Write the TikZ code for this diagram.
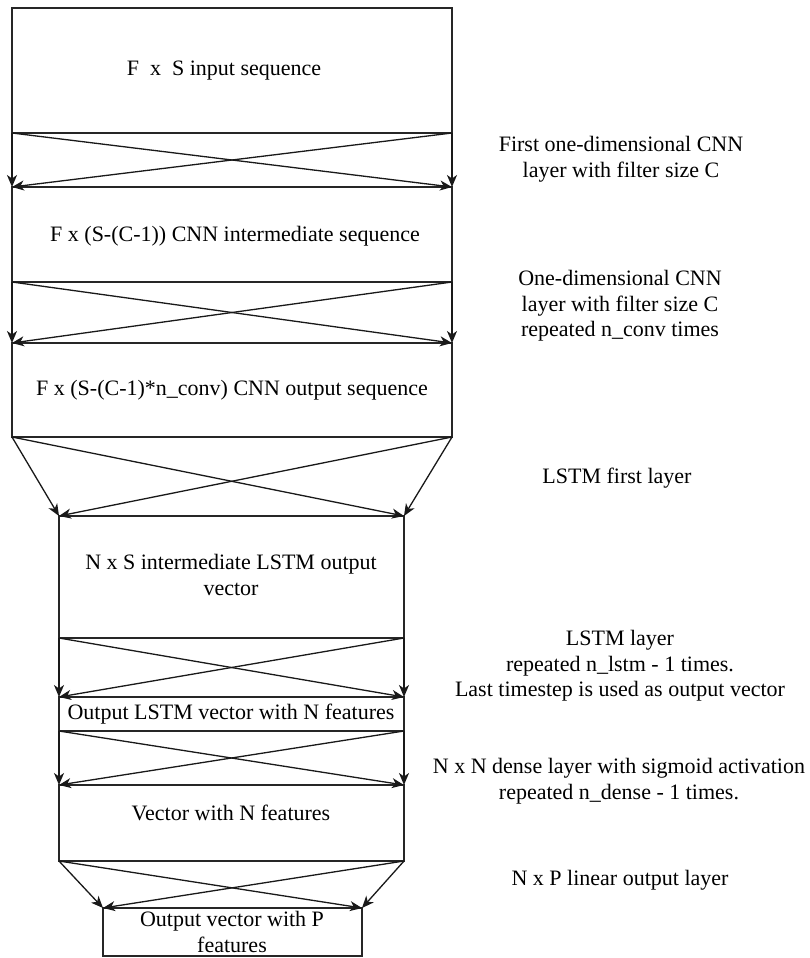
\documentclass[tikz,border=0pt]{standalone}
\usepackage{fontspec}
\setmainfont{Liberation Serif}
\usetikzlibrary{arrows.meta}
\begin{document}
\begin{tikzpicture}[x=1pt,y=-1pt,
  layerbox/.style={draw=black!85, line width=1.4pt},
  flow/.style={draw=black!90, line width=1.3pt, -{Stealth[length=12pt,width=10pt,inset=3.5pt]}},
  txt/.style={font=\fontsize{22}{25.5}\selectfont, align=center, inner sep=0pt},
  note/.style={font=\fontsize{22}{25.5}\selectfont, align=center, inner sep=0pt}]
\useasboundingbox (0,0) rectangle (810,958);
\fill[white] (0,0) rectangle (810,958);

% corners of the layer boxes, used as connector ends
\coordinate (b1tl) at (12,8);   \coordinate (b1tr) at (452,8);
\coordinate (b1bl) at (12,133); \coordinate (b1br) at (452,133);
\coordinate (b2tl) at (12,187); \coordinate (b2tr) at (452,187);
\coordinate (b2bl) at (12,282); \coordinate (b2br) at (452,282);
\coordinate (b3tl) at (12,343); \coordinate (b3tr) at (452,343);
\coordinate (b3bl) at (12,437); \coordinate (b3br) at (452,437);
\coordinate (b4tl) at (59,516); \coordinate (b4tr) at (404,516);
\coordinate (b4bl) at (59,638); \coordinate (b4br) at (404,638);
\coordinate (b5tl) at (59,697); \coordinate (b5tr) at (404,697);
\coordinate (b5bl) at (59,731); \coordinate (b5br) at (404,731);
\coordinate (b6tl) at (59,785); \coordinate (b6tr) at (404,785);
\coordinate (b6bl) at (59,861); \coordinate (b6br) at (404,861);
\coordinate (b7tl) at (103,908); \coordinate (b7tr) at (362,908);
\coordinate (b7bl) at (103,956); \coordinate (b7br) at (362,956);

\foreach \b in {b1,b2,b3,b4,b5,b6,b7}
  \draw[layerbox] (\b tl) rectangle (\b br);

% box texts
\node[txt] (t1) at (224,71) {F\ \ x\ \ S input sequence};
\node[txt] (t2) at (235,236) {F x (S-(C-1)) CNN intermediate sequence};
\node[txt] (t3) at (232,390) {F x (S-(C-1)*n\_conv) CNN output sequence};
\node[txt] (t4) at (231,575) {N x S intermediate LSTM output\\vector};
\node[txt] (t5) at (231,714) {Output LSTM vector with N features};
\node[txt] (t6) at (231,813) {Vector with N features};
\node[txt] (t7) at (232,932) {Output vector with P\\features};

% connectors between consecutive layers
\foreach \a/\b in {b1/b2,b2/b3,b3/b4,b4/b5,b5/b6,b6/b7}{
  \draw[flow] (\a bl) -- (\b tl);
  \draw[flow] (\a br) -- (\b tr);
  \draw[flow] (\a bl) -- (\b tr);
  \draw[flow] (\a br) -- (\b tl);
}

% layer descriptions
\node[note] (n1) at (621,159) {First one-dimensional CNN\\layer with filter size C};
\node[note] (n2) at (620,306) {One-dimensional CNN\\layer with filter size C\\repeated n\_conv times};
\node[note] (n3) at (617,478) {LSTM first layer};
\node[note] (n4) at (620,666) {LSTM layer\\repeated n\_lstm - 1 times.\\Last timestep is used as output vector};
\node[note] (n5) at (619,781) {N x N dense layer with sigmoid activation\\repeated n\_dense - 1 times.};
\node[note] (n6) at (620,880) {N x P linear output layer};
\end{tikzpicture}
\end{document}
